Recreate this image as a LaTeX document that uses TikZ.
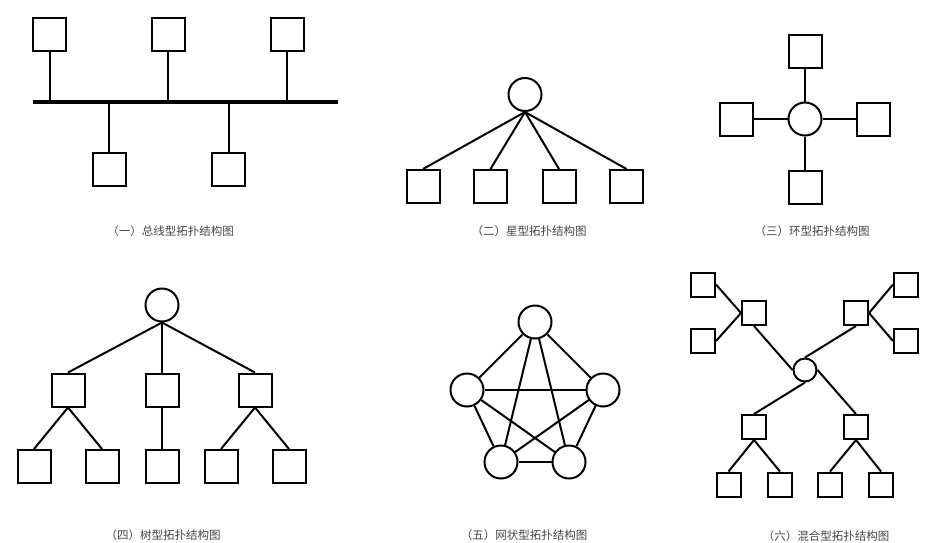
\documentclass[tikz,border=0pt]{standalone}
\usepackage{fontspec}
\newfontfamily\cjk{Noto Sans CJK SC}
\definecolor{lbl}{RGB}{70,70,70}
\begin{document}
\begin{tikzpicture}[x=1pt,y=-1pt,
  box/.style={draw,line width=2pt,minimum size=33pt,inner sep=0pt},
  sbox/.style={draw,line width=2pt,minimum size=24pt,inner sep=0pt},
  circ/.style={draw,circle,line width=2pt,minimum size=33pt,inner sep=0pt},
  scirc/.style={draw,circle,line width=2pt,minimum size=23pt,inner sep=0pt},
  edge/.style={line width=2pt},
  bus/.style={line width=4pt},
  caption/.style={font=\cjk\fontsize{11.5}{13}\selectfont,text=lbl,inner sep=0pt}]
\useasboundingbox (0,0) rectangle (939,542);
\fill[white] (0,0) rectangle (939,542);

% (一) bus
\coordinate (busL) at (33,102);
\coordinate (busR) at (338,102);
\draw[bus] (busL) -- (busR);
\node[box] (a1) at (49.5,34.5) {};
\node[box] (a2) at (168,34.5) {};
\node[box] (a3) at (287,34.5) {};
\node[box] (a4) at (109,169.5) {};
\node[box] (a5) at (228.5,169.5) {};
\foreach \n in {a1,a2,a3} {\coordinate (\n t) at (\n.south |- busL);}
\foreach \n in {a4,a5} {\coordinate (\n t) at (\n.north |- busL);}
\foreach \n in {a1,a2,a3} {\draw[edge] (\n.south) -- (\n t);}
\foreach \n in {a4,a5} {\draw[edge] (\n.north) -- (\n t);}
\node[caption] (capA) at (170.5,231) {（一）总线型拓扑结构图};

% (二) star
\node[circ] (sc) at (525,94.5) {};
\node[box] (s1) at (423,186.5) {};
\node[box] (s2) at (490.5,186.5) {};
\node[box] (s3) at (559,186.5) {};
\node[box] (s4) at (626.5,186.5) {};
\foreach \n in {s1,s2,s3,s4} {\draw[edge] (sc.south) -- (\n.north);}
\node[caption] (capB) at (529,231) {（二）星型拓扑结构图};

% (三) ring
\node[circ] (rc) at (805,119) {};
\node[box] (r1) at (805,51) {};
\node[box] (r2) at (736.5,119) {};
\node[box] (r3) at (873,119) {};
\node[box] (r4) at (805,187) {};
\draw[edge] (rc.north) -- (r1.south);
\draw[edge] (rc.west) -- (r2.east);
\draw[edge] (rc.east) -- (r3.west);
\draw[edge] (rc.south) -- (r4.north);
\node[caption] (capC) at (812,231) {（三）环型拓扑结构图};

% (四) tree
\node[circ] (tc) at (162,305) {};
\node[box] (tm1) at (68,390) {};
\node[box] (tm2) at (162,390) {};
\node[box] (tm3) at (255,390) {};
\node[box] (tl1) at (34,466.5) {};
\node[box] (tl2) at (102,466.5) {};
\node[box] (tl3) at (162,466.5) {};
\node[box] (tl4) at (221,466.5) {};
\node[box] (tl5) at (289,466.5) {};
\foreach \n in {tm1,tm2,tm3} {\draw[edge] (tc.south) -- (\n.north);}
\draw[edge] (tm1.south) -- (tl1.north);
\draw[edge] (tm1.south) -- (tl2.north);
\draw[edge] (tm2.south) -- (tl3.north);
\draw[edge] (tm3.south) -- (tl4.north);
\draw[edge] (tm3.south) -- (tl5.north);
\node[caption] (capD) at (163,535) {（四）树型拓扑结构图};

% (五) mesh
\node[circ] (m1) at (535,322) {};
\node[circ] (m2) at (467,390) {};
\node[circ] (m3) at (603,390) {};
\node[circ] (m4) at (501,462) {};
\node[circ] (m5) at (569,462) {};
\foreach \a/\b in {m1/m2,m1/m3,m1/m4,m1/m5,m2/m3,m2/m4,m2/m5,m3/m4,m3/m5,m4/m5}
  {\draw[edge] (\a) -- (\b);}
\node[caption] (capE) at (524,535) {（五）网状型拓扑结构图};

% (六) hybrid
\node[scirc] (hc) at (805,370) {};
\node[sbox] (hul) at (754,313) {};
\node[sbox] (hur) at (856,313) {};
\node[sbox] (hll) at (754,427) {};
\node[sbox] (hlr) at (856,427) {};
\node[sbox] (hl1) at (703,284.5) {};
\node[sbox] (hl2) at (703,341) {};
\node[sbox] (hr1) at (906,284.5) {};
\node[sbox] (hr2) at (906,341) {};
\node[sbox] (hb1) at (728.5,484.5) {};
\node[sbox] (hb2) at (780,484.5) {};
\node[sbox] (hb3) at (830,484.5) {};
\node[sbox] (hb4) at (881,484.5) {};
\draw[edge] (hl1.east) -- (hul.west);
\draw[edge] (hl2.east) -- (hul.west);
\draw[edge] (hr1.west) -- (hur.east);
\draw[edge] (hr2.west) -- (hur.east);
\draw[edge] (hul.south) -- (hc.west);
\draw[edge] (hur.south) -- (hc.north);
\draw[edge] (hc.south) -- (hll.north);
\draw[edge] (hc.east) -- (hlr.north);
\draw[edge] (hll.south) -- (hb1.north);
\draw[edge] (hll.south) -- (hb2.north);
\draw[edge] (hlr.south) -- (hb3.north);
\draw[edge] (hlr.south) -- (hb4.north);
\node[caption] (capF) at (826,536) {（六）混合型拓扑结构图};
\end{tikzpicture}
\end{document}
